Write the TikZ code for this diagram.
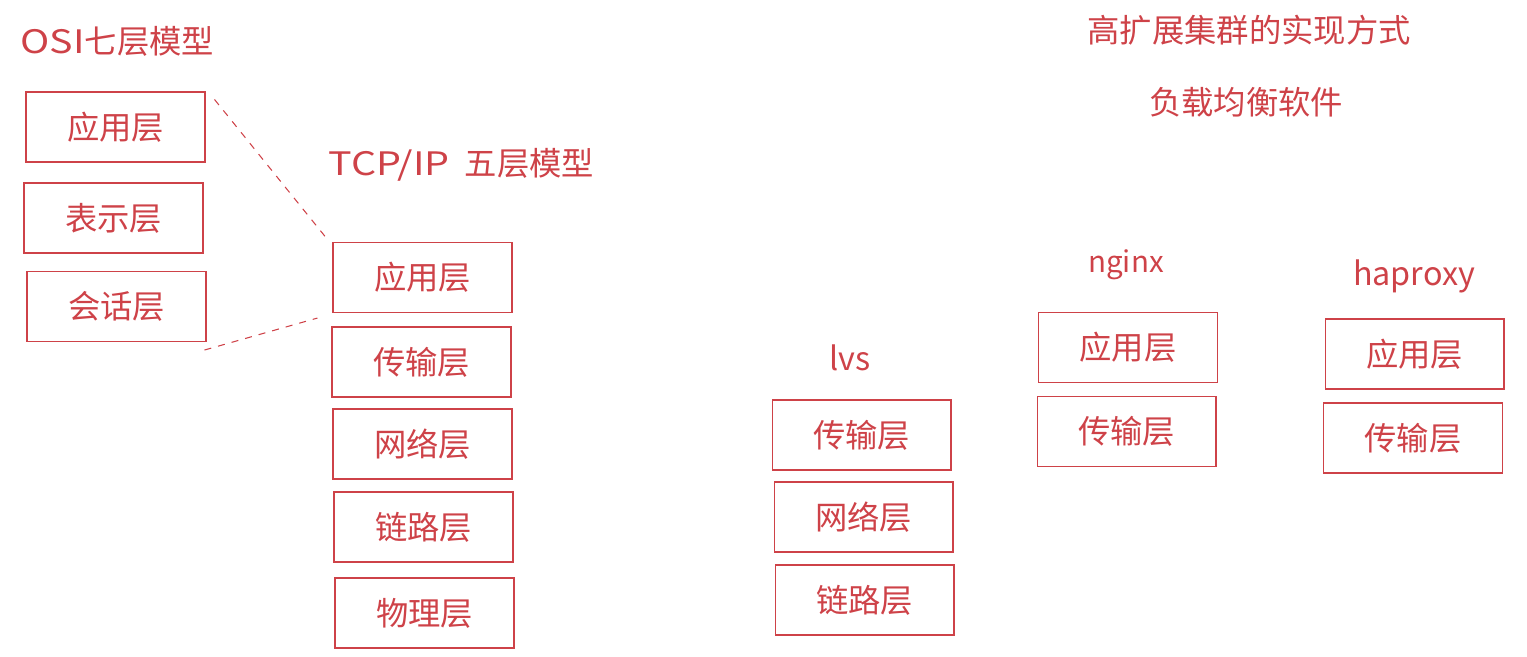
\documentclass[tikz,border=0pt]{standalone}
\usepackage{fontspec}
\setmainfont{Noto Sans CJK SC}
\newfontfamily\widelatin[FakeStretch=1.22]{Noto Sans CJK SC}
\usetikzlibrary{positioning}
\definecolor{inkred}{RGB}{206,66,72}

\begin{document}
\begin{tikzpicture}[x=0.02cm, y=-0.02cm, line width=.6pt,
  layer/.style={draw=inkred, minimum width=3.58cm, minimum height=1.4cm, inner sep=0pt, text=inkred, font=\fontsize{18.4}{21}\selectfont},
  heading/.style={text=inkred, inner sep=0pt, font=\fontsize{18.4}{21}\selectfont}]
\useasboundingbox (0,0) rectangle (1527,656);
% Titles
\node[heading, anchor=west] (osititle) at (20,41) {{\widelatin OSI}七层模型};
\node[heading, anchor=west] (tcptitle) at (328,165) {{\widelatin TCP/IP}\hspace{0.3cm}五层模型};
\node[heading] (maintitle) at (1249,30) {高扩展集群的实现方式};
\node[heading] (subtitle) at (1246,102) {负载均衡软件};
\node[heading] (lvslabel) at (850,358) {lvs};
\node[heading, font=\fontsize{16.8}{20}\selectfont] (ngxlabel) at (1126,265) {nginx};
\node[heading] (haplabel) at (1414,276) {haproxy};
% OSI boxes
\node[layer] (osiapp) at (115.5,127) {应用层};
\node[layer] (osipre) at (113.5,218) {表示层};
\node[layer] (osises) at (116.5,306.5) {会话层};
% TCP/IP boxes
\node[layer] (tcpapp) at (422.5,277.5) {应用层};
\node[layer] (tcptra) at (421.5,362) {传输层};
\node[layer] (tcpnet) at (422.5,444) {网络层};
\node[layer] (tcplink) at (423.5,527) {链路层};
\node[layer] (tcpphy) at (424.5,613) {物理层};
% lvs boxes
\node[layer] (lvstra) at (861.5,435) {传输层};
\node[layer] (lvsnet) at (863.5,517) {网络层};
\node[layer] (lvslink) at (864.5,600) {链路层};
% nginx boxes
\node[layer] (ngxapp) at (1128,347.5) {应用层};
\node[layer] (ngxtra) at (1126.5,431.5) {传输层};
% haproxy boxes
\node[layer] (hapapp) at (1414.5,354) {应用层};
\node[layer] (haptra) at (1413,438) {传输层};
% Dashed lines
\draw[inkred, dash pattern=on 4pt off 4pt] ([shift={(9,8)}]osiapp.north east) -- ([shift={(-7,-5)}]tcpapp.north west);
\draw[inkred, dash pattern=on 4pt off 4pt] ([shift={(-2,8)}]osises.south east) -- ([shift={(-15,5)}]tcpapp.south west);
\end{tikzpicture}
\end{document}
